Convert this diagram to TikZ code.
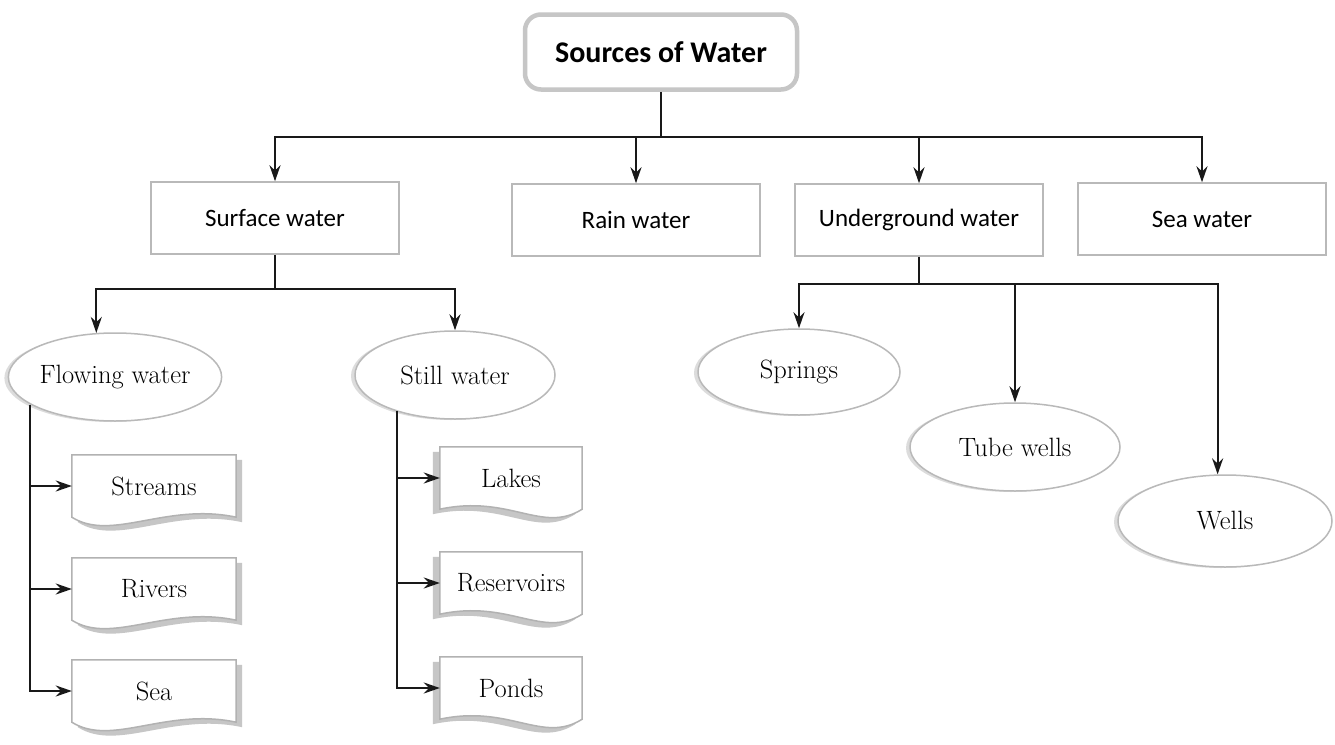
\documentclass[tikz,border=0pt]{standalone}
\usepackage{fontspec}
\newfontfamily\boxfont{Carlito}
\usetikzlibrary{shapes.geometric,arrows.meta,calc,backgrounds,shadows}
\tikzset{
 conn/.style={line width=2.2pt, draw=black!90},
 arr/.style={conn, -{Stealth[length=16pt,width=11pt]}},
 topbox/.style={draw=gray!45, line width=4.5pt, rounded corners=16pt, fill=white, minimum width=272, minimum height=75, font=\boxfont\bfseries\fontsize{30}{36}\selectfont},
 catbox/.style={draw=gray!55, line width=1.5pt, fill=white, minimum width=248, minimum height=72, font=\boxfont\fontsize{25}{30}\selectfont},
 oval/.style={ellipse, draw=gray!55, line width=1.5pt, fill=white, inner sep=0pt, font=\fontsize{26.5}{31}\selectfont, drop shadow={shadow xshift=-4pt, shadow yshift=-1pt, fill=gray!45, opacity=0.6}},
 docnode/.style={inner sep=0pt, minimum height=62, font=\fontsize{26.5}{31}\selectfont},
 docline/.style={draw=gray!60, line width=1.5pt, fill=white},
 docshade/.style={fill=gray!45},
}
\newcommand\docleft[1]{%
 \fill[docshade] ([shift={(6,5)}]#1.north west) -- ([shift={(6,5)}]#1.north east) -- ([shift={(6,5)}]#1.south east) .. controls +(-70,-15) and +(40,25) .. ([shift={(6,5)}]#1.south west) -- cycle;
 \draw[docline] (#1.north west) -- (#1.north east) -- (#1.south east) .. controls +(-70,-15) and +(40,25) .. (#1.south west) -- cycle;}
\newcommand\docright[1]{%
 \fill[docshade] ([shift={(-7,5)}]#1.north west) -- ([shift={(-7,5)}]#1.north east) -- ([shift={(-7,5)}]#1.south east) .. controls +(-40,25) and +(70,-15) .. ([shift={(-7,5)}]#1.south west) -- cycle;
 \draw[docline] (#1.north west) -- (#1.north east) -- (#1.south east) .. controls +(-40,25) and +(70,-15) .. (#1.south west) -- cycle;}
\begin{document}
\begin{tikzpicture}[x=1pt,y=-1pt]
\useasboundingbox (0,0) rectangle (1335,744);
% nodes
\node[topbox] (src) at (661,52) {Sources of Water};
\node[catbox] (surf) at (275,218) {Surface water};
\node[catbox] (rain) at (636,220) {Rain water};
\node[catbox] (under) at (919,220) {Underground water};
\node[catbox] (seaw) at (1202,219) {Sea water};
\node[oval, minimum width=200, minimum height=88] (flow) at (115,377) {Flowing water};
\node[oval, minimum width=200, minimum height=88] (still) at (455,375) {Still water};
\node[oval, minimum width=202, minimum height=86] (spr) at (799,372) {Springs};
\node[oval, minimum width=210, minimum height=88] (tube) at (1015,447) {Tube wells};
\node[oval, minimum width=214, minimum height=92] (wells) at (1225,521) {Wells};
\node[docnode, minimum width=164] (streams) at (154,486) {Streams};
\node[docnode, minimum width=164] (rivers) at (154,589) {Rivers};
\node[docnode, minimum width=164] (sea) at (154,691) {Sea};
\node[docnode, minimum width=142] (lakes) at (511,478) {Lakes};
\node[docnode, minimum width=142] (res) at (511,583) {Reservoirs};
\node[docnode, minimum width=142] (ponds) at (511,688) {Ponds};
\begin{scope}[on background layer]
 \fill[white] (0,0) rectangle (1335,744);
 \docleft{streams}\docleft{rivers}\docleft{sea}
 \docright{lakes}\docright{res}\docright{ponds}
\end{scope}
% connectors
\draw[conn] (src.south) -- ++(0,45) coordinate (tj);
\draw[arr] (tj) -| (surf.north);
\draw[arr] (tj) -| (seaw.north);
\draw[arr] (rain.north |- tj) -- (rain.north);
\draw[arr] (under.north |- tj) -- (under.north);
\draw[conn] (surf.south) -- ++(0,34) coordinate (sj);
\draw[arr] (sj) -| (flow.113);
\draw[arr] (sj) -| (still.north);
\draw[conn] (under.south) -- ++(0,27) coordinate (uj);
\draw[arr] (uj) -| (spr.north);
\draw[arr] (uj) -| (wells.99);
\draw[arr] (tube.north |- uj) -- (tube.north);
\draw[arr] (flow.198) |- (sea.west);
\draw[arr] (flow.198 |- streams.west) -- (streams.west);
\draw[arr] (flow.198 |- rivers.west) -- (rivers.west);
\draw[arr] (still.212) |- (ponds.west);
\draw[arr] (still.212 |- lakes.west) -- (lakes.west);
\draw[arr] (still.212 |- res.west) -- (res.west);
\end{tikzpicture}
\end{document}
